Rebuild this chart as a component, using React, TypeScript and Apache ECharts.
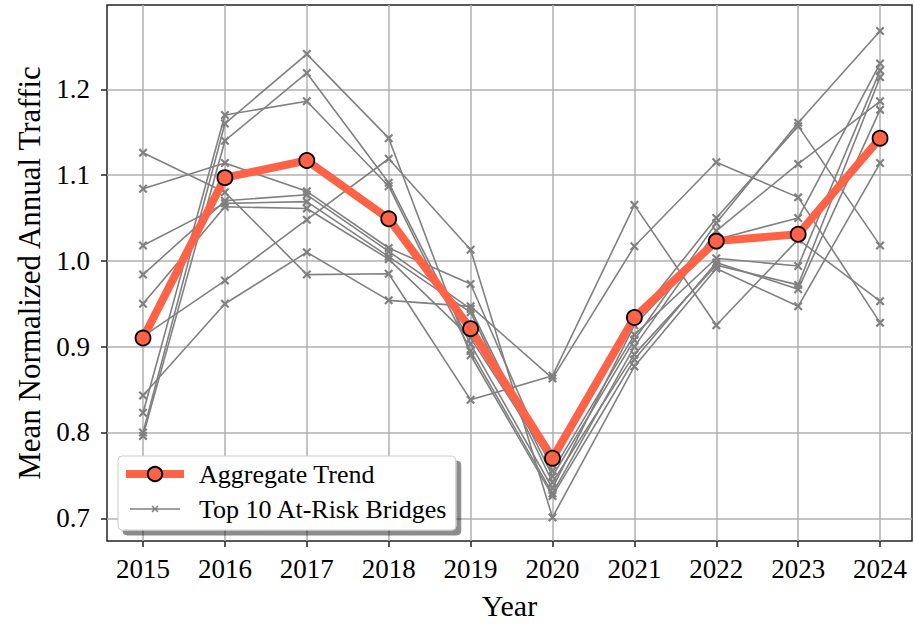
import React, { useEffect, useRef } from "react";
import * as echarts from "echarts";

const years = [2015, 2016, 2017, 2018, 2019, 2020, 2021, 2022, 2023, 2024];
const yTicks = [0.7, 0.8, 0.9, 1.0, 1.1, 1.2];

const aggregateTrend = [0.91, 1.097, 1.117, 1.049, 0.921, 0.77, 0.934, 1.023, 1.031, 1.143];

const bridge01 = [1.126, 1.08, 0.984, 0.985, 0.838, 0.866, 1.065, 0.925, 1.025, 0.953];
const bridge02 = [1.084, 1.114, 1.081, 1.015, 0.973, 0.755, 0.914, 1.003, 0.994, 1.222];
const bridge03 = [1.018, 1.067, 1.069, 1.005, 0.94, 0.742, 0.891, 0.995, 0.972, 1.214];
const bridge04 = [0.984, 1.07, 1.077, 1.011, 0.944, 0.749, 0.908, 1.044, 1.161, 1.268];
const bridge05 = [0.95, 1.063, 1.061, 1.002, 0.91, 0.763, 0.93, 1.05, 1.157, 1.018];
const bridge06 = [0.912, 0.977, 1.048, 1.119, 1.013, 0.701, 0.877, 0.991, 0.947, 1.114];
const bridge07 = [0.843, 0.95, 1.01, 0.954, 0.947, 0.863, 1.017, 1.115, 1.074, 0.928];
const bridge08 = [0.823, 1.17, 1.186, 1.087, 0.895, 0.729, 0.9, 1.035, 1.113, 1.186];
const bridge09 = [0.8, 1.16, 1.241, 1.143, 0.89, 0.726, 0.885, 0.998, 0.967, 1.176];
const bridge10 = [0.796, 1.14, 1.219, 1.091, 0.903, 0.735, 0.925, 1.025, 1.05, 1.23];

const bridges = [bridge01, bridge02, bridge03, bridge04, bridge05, bridge06, bridge07, bridge08, bridge09, bridge10];

const AGG_NAME = "Aggregate Trend";
const BRIDGE_NAME = "Top 10 At-Risk Bridges";

const FONT = "'Liberation Serif', 'DejaVu Serif', serif";
const X_SYMBOL =
  "path://M0,1.7 L1.7,0 L5,3.3 L8.3,0 L10,1.7 L6.7,5 L10,8.3 L8.3,10 L5,6.7 L1.7,10 L0,8.3 L3.3,5 Z";
// legend icon for bridges: thin line with a small x in the middle (box 58 x 18)
const BRIDGE_LEGEND_ICON =
  "path://M0,0 L0.01,0 L0,0.01 Z M58,18 L57.99,18 L58,17.99 Z " +
  "M4,8.25 L54,8.25 L54,9.75 L4,9.75 Z " +
  "M25.5,6.6 L26.6,5.5 L29,7.9 L31.4,5.5 L32.5,6.6 L30.1,9 L32.5,11.4 L31.4,12.5 L29,10.1 L26.6,12.5 L25.5,11.4 L27.9,9 Z";

export default function App() {
  const ref = useRef<HTMLDivElement>(null);

  useEffect(() => {
    if (!ref.current) return;
    const chart = echarts.init(ref.current, undefined, { renderer: "svg" });

    const pairs = (arr: number[]) => years.map((y, i) => [y, arr[i]]);

    const bridgeSeries = bridges.map((arr) => ({
      name: BRIDGE_NAME,
      type: "line",
      data: pairs(arr),
      symbol: X_SYMBOL,
      symbolSize: 9,
      showSymbol: true,
      clip: false,
      z: 3,
      lineStyle: { color: "#808080", width: 1.6 },
      itemStyle: { color: "#808080" },
      emphasis: { disabled: true },
    }));

    const option: any = {
      animation: false,
      backgroundColor: "#ffffff",
      grid: {
        left: 107,
        right: 2,
        top: 5,
        bottom: 83,
        containLabel: false,
        outerBoundsMode: "none",
        show: true,
        borderColor: "#222222",
        borderWidth: 1.5,
        backgroundColor: "transparent",
      },
      legend: {
        data: [
          { name: AGG_NAME, lineStyle: { width: 8, color: "#FF6347" } },
          { name: BRIDGE_NAME, icon: BRIDGE_LEGEND_ICON, itemStyle: { color: "#808080" } },
        ],
        orient: "vertical",
        left: 118,
        top: 456,
        itemWidth: 58,
        itemHeight: 18,
        itemGap: 5,
        padding: [3, 8, 6, 4],
        backgroundColor: "#ffffff",
        borderColor: "#cccccc",
        borderWidth: 1,
        borderRadius: 4,
        shadowColor: "rgba(0,0,0,0.45)",
        shadowBlur: 0,
        shadowOffsetX: 5,
        shadowOffsetY: 5,
        selectedMode: false,
        textStyle: {
          fontFamily: FONT,
          fontSize: 26,
          color: "#000000",
          lineHeight: 30,
          padding: [0, 0, 0, 10],
        },
      },
      xAxis: {
        type: "value",
        min: 2014.56,
        max: 2024.39,
        splitNumber: 10,
        axisLine: { show: false },
        axisTick: {
          show: true,
          length: 6,
          customValues: years,
          lineStyle: { color: "#222222", width: 1.5 },
        },
        axisLabel: {
          customValues: years,
          margin: 14,
          fontFamily: FONT,
          fontSize: 27,
          color: "#000000",
          formatter: (v: number) => String(Math.round(v)),
        },
        splitLine: { show: true, lineStyle: { color: "#b0b0b0", width: 1.5 } },
        name: "Year",
        nameLocation: "middle",
        nameGap: 49,
        nameTextStyle: { fontFamily: FONT, fontSize: 30, lineHeight: 30, color: "#000000" },
      },
      yAxis: {
        type: "value",
        min: 0.6735,
        max: 1.2982,
        splitNumber: 6,
        axisLine: { show: false },
        axisTick: {
          show: true,
          length: 6,
          customValues: yTicks,
          lineStyle: { color: "#222222", width: 1.5 },
        },
        axisLabel: {
          customValues: yTicks,
          margin: 17,
          fontFamily: FONT,
          fontSize: 27,
          color: "#000000",
          formatter: (v: number) => v.toFixed(1),
        },
        splitLine: { show: true, lineStyle: { color: "#b0b0b0", width: 1.5 } },
        name: "Mean Normalized Annual Traffic",
        nameLocation: "middle",
        nameRotate: 90,
        nameGap: 62,
        nameTextStyle: { fontFamily: FONT, fontSize: 31, color: "#000000" },
      },
      series: [
        ...bridgeSeries,
        {
          name: AGG_NAME,
          type: "line",
          data: pairs(aggregateTrend),
          symbol: "circle",
          symbolSize: 15,
          showSymbol: true,
          clip: false,
          z: 10,
          lineStyle: { color: "#FF6347", width: 8 },
          itemStyle: { color: "#FF6347", borderColor: "#000000", borderWidth: 1.8 },
          emphasis: { disabled: true },
        },
      ],
    };

    chart.setOption(option);
    return () => chart.dispose();
  }, []);

  return (
    <div
      ref={ref}
      style={{ position: "fixed", left: 0, top: 0, width: 914, height: 624, background: "#fff" }}
    />
  );
}
